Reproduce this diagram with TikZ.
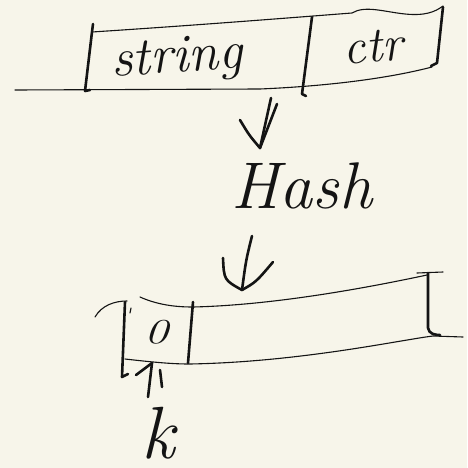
\documentclass[tikz,border=0pt]{standalone}
\usepackage{xcolor}
\usepackage{graphicx}
\definecolor{paper}{HTML}{F7F5EA}
\definecolor{ink}{HTML}{141414}
\begin{document}
\begin{tikzpicture}[x=1pt,y=-1pt,
  thinline/.style={draw=ink,line width=1.1pt,line cap=round,line join=round},
  pen/.style={draw=ink,line width=2.6pt,line cap=round,line join=round},
  hand/.style={text=ink,inner sep=0pt}]
% paper
\fill[paper] (0,0) rectangle (467,468);
\useasboundingbox (0,0) rectangle (467,468);

% ---- key record: string | ctr ----
\draw[thinline] (15,90) -- (260,89) .. controls (330,86) and (390,78) .. (432,67);
\draw[thinline] (92,32) .. controls (200,25) and (300,17) .. (352,13)
  .. controls (365,5) and (385,12) .. (405,14) .. controls (425,16) and (435,12) .. (443,6);
\draw[pen] (93,24) -- (92,32) -- (85,91) -- (90,90);
\draw[pen] (312,17) -- (302,94) -- (306,96);
\draw[pen] (443,7) -- (437,63) -- (431,66);
\node[hand,font=\itshape\fontsize{54}{54}\selectfont,rotate=4] (str) at (177,60) {string};
\node[hand,font=\itshape\fontsize{50}{50}\selectfont,rotate=5] (ctr) at (373,47) {ctr};

% ---- hash step ----
\node[hand,font=\itshape\fontsize{66}{66}\selectfont] (hash) at (302,186) {Hash};
\coordinate (a1s) at (271,98);
\coordinate (a1t) at (260,148);
\draw[pen] (a1s) -- (a1t);
\draw[pen] (240,120) .. controls (249,135) .. (a1t) -- (277,104);
\coordinate (a2s) at (252,236);
\coordinate (a2t) at (242,290);
\draw[pen] (a2s) .. controls (246,260) .. (a2t);
\draw[pen] (223,258) .. controls (224,280) .. (a2t) .. controls (256,282) .. (273,262);

% ---- table ----
\draw[thinline] (140,297) .. controls (160,306) and (180,307) .. (193,307)
  .. controls (280,305) and (380,285) .. (427,275);
\draw[thinline] (417,273) -- (443,272);
\draw[thinline] (125,359) .. controls (160,363) and (175,364) .. (190,364)
  .. controls (300,362) and (400,340) .. (433,336) -- (463,337);
\draw[thinline] (95,317) .. controls (102,305) and (115,301) .. (127,301);
\draw[pen] (125,302) -- (122,377) -- (128,374);
\draw[thinline] (131,308) -- (130,313);
\draw[pen] (193,302) -- (188,363);
\draw[pen] (428,273) -- (428,328) .. controls (429,334) and (435,335) .. (440,335);
\node[hand,font=\itshape\fontsize{20}{20}\selectfont,anchor=base] (zero) at (156,343) {\scalebox{2.4}[1.75]{0}};

% ---- index k pointing at slot 0 ----
\node[hand,font=\itshape\fontsize{74}{74}\selectfont,anchor=base] (k) at (158,458) {k};
\coordinate (kt) at (152,363);
\coordinate (ks) at (148,397);
\draw[pen] (ks) -- (kt);
\draw[pen] (kt) -- (136,375);
\draw[pen] (160,370) -- (162,387);
\end{tikzpicture}
\end{document}
